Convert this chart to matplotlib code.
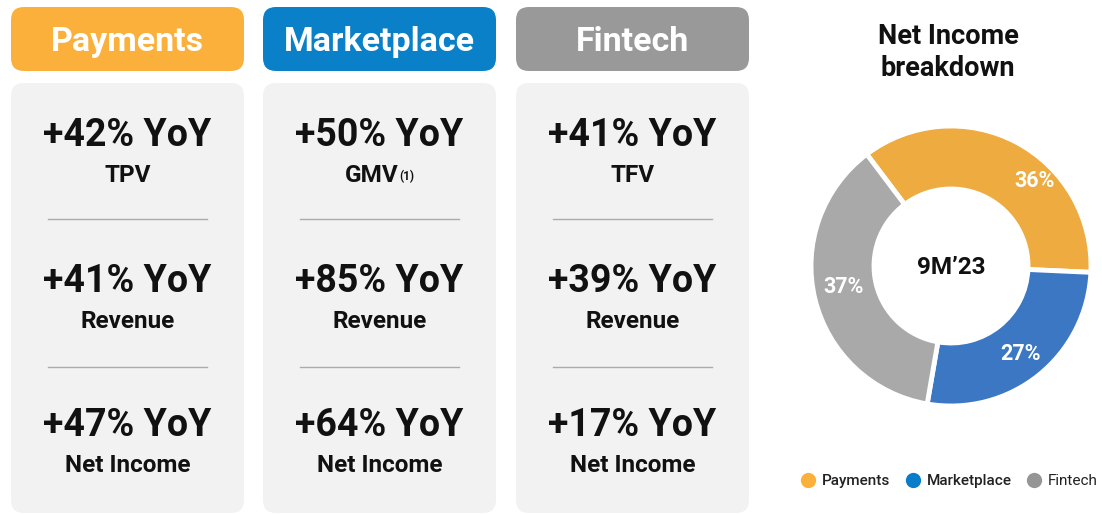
import matplotlib
matplotlib.use("Agg")
import matplotlib.pyplot as plt
from matplotlib.patches import FancyBboxPatch
from matplotlib.lines import Line2D
import numpy as np

plt.rcParams['font.family'] = ['Roboto', 'DejaVu Sans']

# ---- data ----
segments = ["Payments", "Marketplace", "Fintech"]
header_colors = ["#FBB03B", "#0A80C8", "#999999"]
growth_row1 = [42, 50, 41]
metric_row1 = ["TPV", "GMV", "TFV"]
growth_row2 = [41, 85, 39]
growth_row3 = [47, 64, 17]
metric_row2 = "Revenue"
metric_row3 = "Net Income"
footnote_mark = ["", "(1)", ""]

donut_title = ["Net Income", "breakdown"]
donut_center = "9M’23"
net_income_share = [36, 27, 37]
donut_colors = ["#EEAB40", "#3B77C3", "#A9A9A9"]
legend_colors = ["#FBB03B", "#0A7DC9", "#959595"]

W, H = 1102, 514
fig = plt.figure(figsize=(W / 100, H / 100), dpi=100)
ax = fig.add_axes([0, 0, 1, 1])
ax.set_xlim(0, W)
ax.set_ylim(H, 0)
ax.axis("off")

col_left = [11, 263, 516]
col_w = 233

for i, name in enumerate(segments):
    x0 = col_left[i]
    cx = x0 + col_w / 2
    # header
    ax.add_patch(FancyBboxPatch((x0, 7), col_w, 64,
                                boxstyle="round,pad=0,rounding_size=13",
                                fc=header_colors[i], ec="none"))
    ax.text(cx, 42, name, ha="center", va="center", color="white",
            fontsize=24.5, fontweight="bold")
    # content box
    ax.add_patch(FancyBboxPatch((x0, 83), col_w, 430,
                                boxstyle="round,pad=0,rounding_size=13",
                                fc="#F2F2F2", ec="none"))
    rows = [(growth_row1[i], metric_row1[i], 136, 176),
            (growth_row2[i], metric_row2, 282, 322),
            (growth_row3[i], metric_row3, 425, 465)]
    for j, (g, m, yb, ys) in enumerate(rows):
        ax.text(cx, yb, f"+{g}% YoY", ha="center", va="center",
                fontsize=27, fontweight="bold", color="#111111")
        if j == 0 and footnote_mark[i]:
            ax.text(cx + 19, ys, m, ha="right", va="center",
                    fontsize=17.5, fontweight="bold", color="#111111")
            ax.text(cx + 20, ys + 1, footnote_mark[i], ha="left", va="center",
                    fontsize=8.5, fontweight="bold", color="#111111")
        else:
            ax.text(cx, ys, m, ha="center", va="center",
                    fontsize=17.5, fontweight="bold", color="#111111")
    for ly in (219, 367):
        ax.add_line(Line2D([x0 + 37, x0 + 196], [ly, ly], color="#ABABAB", lw=1))

# title
for k, line in enumerate(donut_title):
    ax.text(948, 37 + 32 * k, line, ha="center", va="center", fontsize=19.5,
            fontweight="bold", color="#111111")

# donut
dcx, dcy, R = 951, 266, 140
dax = fig.add_axes([(dcx - R) / W, (H - dcy - R) / H, 2 * R / W, 2 * R / H])
wedges, _ = dax.pie(net_income_share, colors=donut_colors, startangle=127,
                    counterclock=False, radius=1,
                    wedgeprops=dict(width=0.45, edgecolor="white", linewidth=3.5))
dax.set_xlim(-1, 1)
dax.set_ylim(-1, 1)
dax.set_aspect("equal")
label_angle_offset = [-16, 0, -3]
label_radius = [0.86, 0.79, 0.78]
for share, w, da, r in zip(net_income_share, wedges, label_angle_offset, label_radius):
    mid = np.deg2rad((w.theta1 + w.theta2) / 2 + da)
    dax.text(r * np.cos(mid), r * np.sin(mid) - 0.01, f"{share}%", ha="center",
             va="center", color="white", fontsize=15.5, fontweight="bold")
dax.text(0, -0.01, donut_center, ha="center", va="center", fontsize=17.5,
         fontweight="bold", color="#111111")

# legend
leg_marker_x = [808, 913, 1034]
leg_weights = ["medium", "medium", "normal"]
for k, name in enumerate(segments):
    ax.plot(leg_marker_x[k], 480, marker="o", ms=11, color=legend_colors[k],
            mec="none")
    ax.text(leg_marker_x[k] + 14, 481, name, ha="left", va="center",
            fontsize=11, fontweight=leg_weights[k], color="#222222")

fig.savefig("out.png", dpi=100)
